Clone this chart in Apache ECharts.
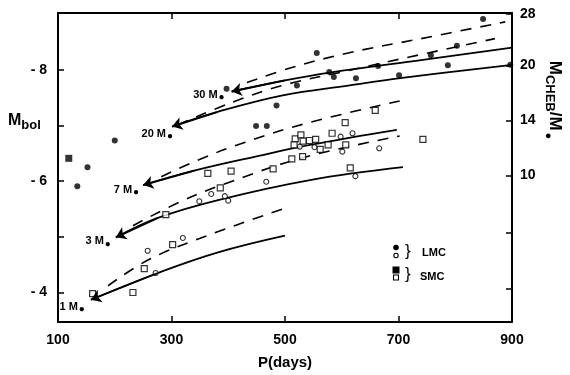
<!DOCTYPE html>
<html>
<head>
<meta charset="utf-8">
<script src="https://cdn.jsdelivr.net/npm/echarts@6/dist/echarts.min.js"></script>
<style>
  html, body { margin: 0; padding: 0; background: #fff; }
  #chart { width: 570px; height: 375px; }
</style>
</head>
<body>
<div id="chart"></div>
<script>
// evolutionary tracks, [P (days), Mbol]
var track1Solid = [[158,-3.87],[276,-4.35],[382,-4.72],[500,-5.02]];
var track1Dash  = [[188,-4.12],[262,-4.60],[368,-5.04],[505,-5.53]];
var track3Solid = [[202,-4.99],[276,-5.34],[382,-5.66],[544,-6.02],[708,-6.25]];
var track3Dash  = [[232,-5.20],[320,-5.65],[407,-6.00],[535,-6.43],[702,-6.81]];
var track7Solid = [[250,-5.93],[340,-6.19],[456,-6.46],[544,-6.65],[697,-6.92]];
var track7Dash  = [[282,-6.08],[347,-6.38],[430,-6.70],[542,-7.05],[702,-7.44]];
var track20Solid = [[301,-6.98],[380,-7.24],[496,-7.54],[614,-7.72],[703,-7.85],[900,-8.09]];
var track20Dash  = [[311,-7.01],[408,-7.42],[496,-7.72],[600,-7.96],[715,-8.22],[870,-8.56]];
var track30Solid = [[406,-7.61],[500,-7.81],[579,-7.95],[743,-8.18],[900,-8.40]];
var track30Dash  = [[433,-7.77],[512,-8.04],[615,-8.31],[740,-8.56],[888,-8.86]];
var trackNames = ['1 M', '3 M', '7 M', '20 M', '30 M'];
var labelOffsets = [[-5.5, 8], [-4.5, 5], [-3.5, 6], [1.5, 8], [-6.5, 4]];

// Cepheids
var lmcFilled = [[134,-5.91],[152,-6.25],[200,-6.73],[397,-7.66],[449,-6.99],[468,-6.99],[485,-7.36],[521,-7.72],[556,-8.30],[578,-7.96],[586,-7.87],[625,-7.85],[664,-8.07],[701,-7.90],[757,-8.26],[787,-8.08],[803,-8.43],[849,-8.91],[897,-8.09]];
var lmcOpen = [[258,-4.75],[272,-4.35],[320,-4.98],[349,-5.64],[370,-5.77],[394,-5.73],[400,-5.65],[467,-5.99],[526,-6.62],[552,-6.61],[598,-6.80],[619,-6.86],[601,-6.53],[666,-6.59],[624,-6.09]];
var smcFilled = [[119,-6.41]];
var smcOpen = [[161,-3.98],[232,-4.00],[252,-4.43],[302,-4.86],[290,-5.40],[364,-6.14],[386,-5.88],[405,-6.18],[479,-6.22],[512,-6.40],[531,-6.44],[518,-6.76],[528,-6.83],[516,-6.65],[532,-6.72],[543,-6.73],[554,-6.75],[562,-6.57],[576,-6.65],[607,-6.65],[583,-6.86],[606,-7.05],[615,-6.24],[659,-7.27],[743,-6.75]];

// axes
var pTicks = [100, 300, 500, 700, 900];
var pInnerTicks = [300, 500, 700];
var mbolTicks = [-8, -7, -6, -5, -4];
var mbolLabels = [-8, -6, -4];
var massTickMbol = [-9.0, -8.08, -7.09, -6.10, -5.08, -4.07];
var massTickLabel = ['28', '20', '14', '10', '', ''];

var FONT = '"Liberation Sans", Arial, sans-serif';
var solidTracks = [track1Solid, track3Solid, track7Solid, track20Solid, track30Solid];
var dashTracks = [track1Dash, track3Dash, track7Dash, track20Dash, track30Dash];

var seriesData = [];
for (var i = 0; i < solidTracks.length; i++) {
  var d = solidTracks[i];
  seriesData.push({
    type: 'line',
    data: d,
    smooth: 0.4,
    symbol: 'none',
    z: 2,
    lineStyle: { color: '#000', width: 1.8 },
    // arrow head at the start of the track
    markLine: {
      silent: true,
      symbol: ['arrow', 'none'],
      symbolSize: 10,
      label: { show: false },
      lineStyle: { color: '#000', width: 1.8, type: 'solid' },
      itemStyle: { color: '#000' },
      data: [[{ coord: d[0] }, { coord: d[1] }]]
    },
    // mass label, e.g. "7 M☉"
    markPoint: {
      silent: true,
      symbol: 'circle',
      symbolSize: 1,
      itemStyle: { color: 'rgba(0,0,0,0)' },
      label: {
        show: true,
        position: 'left',
        distance: 0,
        offset: labelOffsets[i],
        formatter: '{a|' + trackNames[i] + '}{s|●}',
        rich: {
          a: { fontSize: 11, fontWeight: 'bold', fontFamily: FONT, color: '#000', lineHeight: 13, verticalAlign: 'top' },
          s: { fontSize: 10, color: '#000', lineHeight: 13, verticalAlign: 'bottom', padding: [0, 0, 0, 1] }
        }
      },
      data: [{ coord: d[0] }]
    }
  });
  seriesData.push({
    type: 'line',
    data: dashTracks[i],
    smooth: 0.4,
    symbol: 'none',
    z: 2,
    lineStyle: { color: '#000', width: 1.6, type: [11, 9] }
  });
}

seriesData.push({
  type: 'scatter', data: lmcFilled, symbol: 'circle', symbolSize: 6, z: 4,
  itemStyle: { color: '#000' }
});
seriesData.push({
  type: 'scatter', data: lmcOpen, symbol: 'circle', symbolSize: 5, z: 4,
  itemStyle: { color: '#fff', borderColor: '#000', borderWidth: 1.1 }
});
seriesData.push({
  type: 'scatter', data: smcFilled, symbol: 'rect', symbolSize: 7, z: 4,
  itemStyle: { color: '#000' }
});
seriesData.push({
  type: 'scatter', data: smcOpen, symbol: 'rect', symbolSize: 6, z: 4,
  itemStyle: { color: '#fff', borderColor: '#000', borderWidth: 1.2 }
});

var axisLineStyle = { color: '#000', width: 2 };
var tickStyle = { color: '#000', width: 1.5 };
var labelStyle = { color: '#000', fontSize: 14, fontWeight: 'bold', fontFamily: FONT };

var chart = echarts.init(document.getElementById('chart'));
chart.setOption({
  animation: false,
  backgroundColor: '#fff',
  grid: { left: 58, right: 58, top: 13, bottom: 49 },
  xAxis: [
    {
      type: 'value', min: 100, max: 900, position: 'bottom',
      axisLine: { lineStyle: axisLineStyle },
      axisTick: { inside: true, length: 6, lineStyle: tickStyle, customValues: pInnerTicks },
      axisLabel: Object.assign({ customValues: pTicks, margin: 11 }, labelStyle),
      splitLine: { show: false },
      name: 'P(days)', nameLocation: 'middle', nameGap: 33,
      nameTextStyle: { color: '#000', fontSize: 15, fontWeight: 'bold', fontFamily: FONT }
    },
    {
      type: 'value', min: 100, max: 900, position: 'top',
      axisLine: { lineStyle: axisLineStyle },
      axisTick: { inside: true, length: 6, lineStyle: tickStyle, customValues: pInnerTicks },
      axisLabel: { show: false },
      splitLine: { show: false }
    }
  ],
  yAxis: [
    {
      type: 'value', min: -9.02, max: -3.47, inverse: true, position: 'left',
      axisLine: { lineStyle: axisLineStyle },
      axisTick: { inside: true, length: 6, lineStyle: tickStyle, customValues: mbolTicks },
      axisLabel: Object.assign({
        customValues: mbolLabels, margin: 11,
        formatter: function (v) { return '- ' + Math.abs(v); }
      }, labelStyle),
      splitLine: { show: false }
    },
    {
      type: 'value', min: -9.02, max: -3.47, inverse: true, position: 'right',
      axisLine: { lineStyle: axisLineStyle },
      axisTick: { inside: true, length: 6, lineStyle: tickStyle, customValues: massTickMbol },
      axisLabel: Object.assign({
        customValues: massTickMbol.slice(0, 4), margin: 8,
        formatter: function (v) {
          var idx = massTickMbol.indexOf(v);
          return idx >= 0 ? massTickLabel[idx] : '';
        }
      }, labelStyle),
      splitLine: { show: false }
    }
  ],
  graphic: [
    {
      type: 'text', left: 8, top: 113,
      style: {
        text: '{m|M}{b|bol}',
        rich: {
          m: { fontSize: 16, fontFamily: FONT, fontWeight: 'bold', fill: '#000', lineHeight: 19, verticalAlign: 'top' },
          b: { fontSize: 13, fontFamily: FONT, fontWeight: 'bold', fill: '#000', lineHeight: 19, verticalAlign: 'bottom' }
        }
      }
    },
    {
      type: 'text', x: 553, y: 100, rotation: -Math.PI / 2,
      style: {
        text: '{m|M}{s|CHEB}{m|/M}{d|●}',
        align: 'center', verticalAlign: 'middle',
        rich: {
          m: { fontSize: 17, fontFamily: FONT, fontWeight: 'bold', fill: '#000', lineHeight: 20, verticalAlign: 'top' },
          s: { fontSize: 13, fontFamily: FONT, fontWeight: 'bold', fill: '#000', lineHeight: 20, verticalAlign: 'bottom' },
          d: { fontSize: 11, fill: '#000', lineHeight: 20, verticalAlign: 'bottom', padding: [0, 0, 0, 2] }
        }
      }
    },
    // legend
    { type: 'circle', shape: { cx: 396, cy: 247.5, r: 2.8 }, style: { fill: '#000' } },
    { type: 'circle', shape: { cx: 396, cy: 255.5, r: 2.2 }, style: { fill: '#fff', stroke: '#000', lineWidth: 1.1 } },
    { type: 'rect', shape: { x: 392.5, y: 266.5, width: 7, height: 7 }, style: { fill: '#000' } },
    { type: 'rect', shape: { x: 393.5, y: 275, width: 5, height: 5 }, style: { fill: '#fff', stroke: '#000', lineWidth: 1.1 } },
    { type: 'text', x: 405, y: 251.5, style: { text: '}', fontSize: 17, fontFamily: FONT, fill: '#000', verticalAlign: 'middle' } },
    { type: 'text', x: 405, y: 274.5, style: { text: '}', fontSize: 17, fontFamily: FONT, fill: '#000', verticalAlign: 'middle' } },
    { type: 'text', x: 422, y: 253, style: { text: 'LMC', fontSize: 11, fontWeight: 'bold', fontFamily: FONT, fill: '#000', verticalAlign: 'middle' } },
    { type: 'text', x: 420, y: 277, style: { text: 'SMC', fontSize: 11, fontWeight: 'bold', fontFamily: FONT, fill: '#000', verticalAlign: 'middle' } }
  ],
  series: seriesData
});
</script>
</body>
</html>
